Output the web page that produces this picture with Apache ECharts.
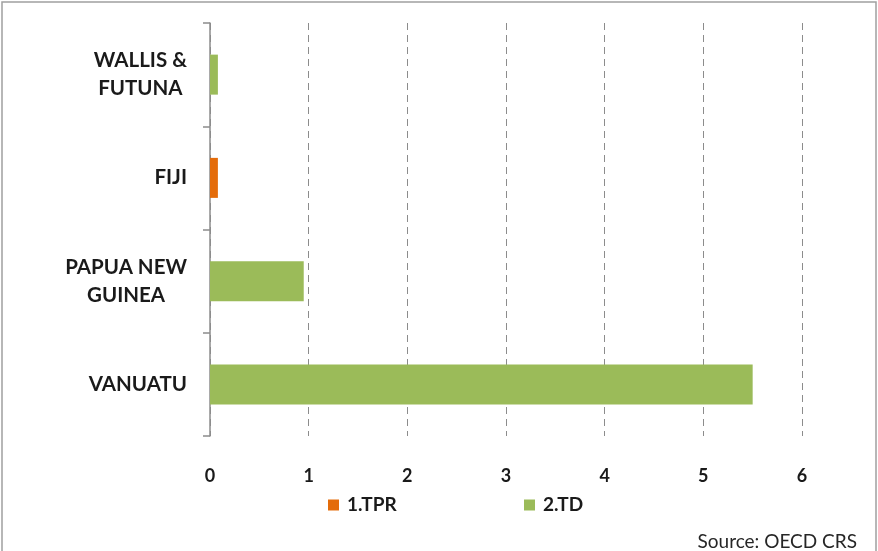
<!DOCTYPE html>
<html>
<head>
<meta charset="utf-8">
<script src="https://cdn.jsdelivr.net/npm/echarts@6/dist/echarts.min.js"></script>
<style>
  html, body { margin: 0; padding: 0; background: #ffffff; }
  #chart { width: 878px; height: 551px; }
</style>
</head>
<body>
<div id="chart"></div>
<script>
// Recipient countries, listed bottom to top on the category axis
const categories = ['VANUATU', 'PAPUA NEW\nGUINEA', 'FIJI', 'WALLIS &\nFUTUNA'];
// Amounts per channel (stacked)
const tprValues = [0, 0, 0.08, 0];
const tdValues = [5.5, 0.95, 0, 0.08];
const seriesNames = ['1.TPR', '2.TD'];
const xTicks = [0, 1, 2, 3, 4, 5, 6];

const FONT = 'Lato, "Liberation Sans", sans-serif';
const TEXT = '#1a1a1a';

const chart = echarts.init(document.getElementById('chart'), null, { renderer: 'canvas' });

const legendText = { color: TEXT, fontFamily: FONT, fontWeight: 'bold', fontSize: 19, lineHeight: 20, padding: [0, 0, 0, 3] };

chart.setOption({
  animation: false,
  backgroundColor: '#ffffff',
  grid: { left: 210, top: 23, width: 592, height: 413, containLabel: false },
  xAxis: {
    type: 'value',
    min: xTicks[0],
    max: xTicks[xTicks.length - 1],
    interval: 1,
    axisLine: { show: false },
    axisTick: { show: false },
    splitLine: { show: true, lineStyle: { color: '#8c8c8c', width: 1, type: [7, 5] } },
    axisLabel: {
      margin: 31,
      color: TEXT,
      fontFamily: FONT,
      fontWeight: 'bold',
      fontSize: 18
    }
  },
  yAxis: {
    type: 'category',
    data: categories,
    axisLine: { show: true, lineStyle: { color: '#8c8c8c', width: 1.5 } },
    axisTick: { show: true, length: 7, lineStyle: { color: '#8c8c8c', width: 1.5 } },
    splitLine: { show: false },
    axisLabel: {
      margin: 23,
      align: 'right',
      formatter: function (v) {
        return v.split('\n').map(function (l) { return '{c|' + l + '}'; }).join('\n');
      },
      rich: {
        c: {
          align: 'center',
          color: TEXT,
          fontFamily: FONT,
          fontWeight: 'bold',
          fontSize: 20.5,
          lineHeight: 28
        }
      }
    }
  },
  legend: [
    {
      data: [seriesNames[0]],
      left: 328, top: 495, padding: 0,
      icon: 'rect', itemWidth: 11, itemHeight: 11,
      textStyle: legendText
    },
    {
      data: [seriesNames[1]],
      left: 524, top: 495, padding: 0,
      icon: 'rect', itemWidth: 11, itemHeight: 11,
      textStyle: legendText
    }
  ],
  series: [
    {
      name: seriesNames[0],
      type: 'bar',
      stack: 'total',
      barWidth: 40,
      itemStyle: { color: '#E46C0A' },
      data: tprValues
    },
    {
      name: seriesNames[1],
      type: 'bar',
      stack: 'total',
      barWidth: 40,
      itemStyle: { color: '#9BBB59' },
      data: tdValues
    }
  ],
  graphic: [
    {
      type: 'rect',
      shape: { x: 2, y: 2, width: 874, height: 600 },
      style: { fill: 'none', stroke: '#a0a0a0', lineWidth: 1.5 },
      silent: true
    },
    {
      type: 'text',
      right: 21,
      top: 532,
      style: { text: 'Source: OECD CRS', fill: '#262626', font: '19px ' + FONT }
    }
  ]
});
</script>
</body>
</html>
